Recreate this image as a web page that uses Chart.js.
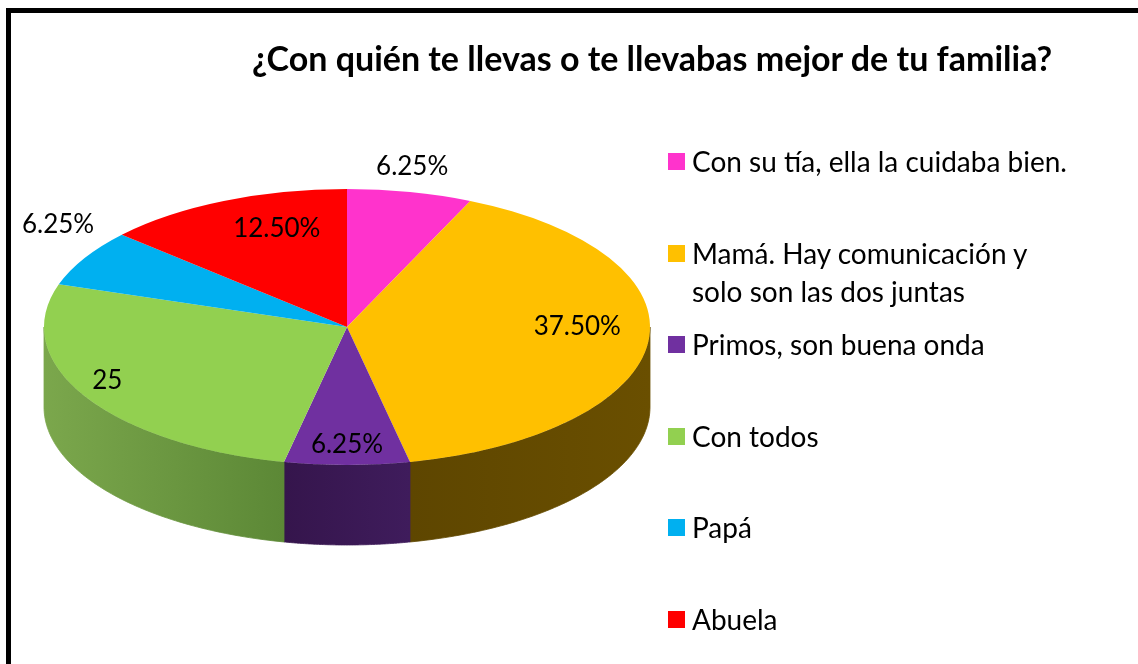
<!DOCTYPE html>
<html><head><meta charset="utf-8">
<script src="https://cdn.jsdelivr.net/npm/chart.js@4/dist/chart.umd.min.js"></script>
<style>
html,body{margin:0;padding:0;background:#fff;overflow:hidden;width:1138px;height:664px;font-family:Lato,"Open Sans",sans-serif;}
#frame{position:absolute;left:6px;top:8px;width:1300px;height:800px;border:5px solid #000;box-sizing:border-box;}
#wrap{position:absolute;left:0;top:0;width:1138px;height:664px;}
#title{position:absolute;left:252px;width:800px;top:38px;text-align:center;font-weight:700;font-size:34px;line-height:40px;color:#000;white-space:nowrap;}
.item{position:absolute;left:668px;font-size:28px;line-height:38px;color:#000;}
.item .sw{position:absolute;left:0;top:11px;width:17px;height:17px;}
.item .tx{position:absolute;left:24px;width:384px;}
</style>
</head><body>
<div id="frame"></div>
<div id="wrap"><canvas id="c" width="1138" height="664"></canvas></div>
<div id="title">¿Con quién te llevas o te llevabas mejor de tu familia?</div>
<div id="legend"></div>
<script>
const categories = ["Con su tía, ella la cuidaba bien.", "Mamá. Hay comunicación y solo son las dos juntas", "Primos, son buena onda", "Con todos", "Papá", "Abuela"];
const values = [6.25, 37.5, 6.25, 25, 6.25, 12.5];
const valueLabels = ["6.25%", "37.50%", "6.25%", "25", "6.25%", "12.50%"];
const topColors = ["#FF33CC", "#FFC000", "#7030A0", "#92D050", "#00B0F0", "#FF0000"];
const sideColors = [["#99207a", "#99207a"], ["#6a4f00", "#5e4600"], ["#3f1c5c", "#35154c"], ["#5c8836", "#7ba74c"], ["#006a90", "#006a90"], ["#990000", "#990000"]];

// geometry of the tilted pie
const TILT = 0.4554;     // vertical squash of the top face
const TOP_CY = 327;      // centre of the top face on screen
const DEPTH = 80;        // thickness of the pie
const labelPlace = [[-1.5, 1.18], [-6, 0.76], [0, 0.85], [4, 0.88], [8, 1.21], [6, 0.75]]; // [angle shift deg, radius factor]

// legend
const leg = document.getElementById('legend');
categories.forEach((c, i) => {
  const d = document.createElement('div');
  d.className = 'item';
  d.style.top = (161 + i * 91.5 - 19) + 'px';
  d.innerHTML = '<span class="sw" style="background:' + topColors[i] + '"></span><span class="tx"></span>';
  d.querySelector('.tx').textContent = c;
  leg.appendChild(d);
});

function sidePath(ctx, cx, cy, r, ry, a, b) {
  const n = 80;
  ctx.beginPath();
  for (let j = 0; j <= n; j++) {
    const t = a + (b - a) * j / n;
    const x = cx + r * Math.cos(t), y = cy + ry * Math.sin(t);
    if (j) ctx.lineTo(x, y); else ctx.moveTo(x, y);
  }
  for (let j = n; j >= 0; j--) {
    const t = a + (b - a) * j / n;
    ctx.lineTo(cx + r * Math.cos(t), cy + ry * Math.sin(t) + DEPTH);
  }
  ctx.closePath();
}

const pie3d = {
  id: 'pie3d',
  beforeDatasetsDraw(chart) {
    const meta = chart.getDatasetMeta(0);
    const ctx = chart.ctx;
    const a0 = meta.data[0];
    const cx = a0.x, cy0 = a0.y, r = a0.outerRadius, ry = r * TILT;
    const TWO = Math.PI * 2;
    meta.data.forEach((arc, i) => {
      const s = arc.startAngle, e = arc.endAngle;
      for (let k = -1; k <= 1; k++) {
        const a = Math.max(s, k * TWO), b = Math.min(e, k * TWO + Math.PI);
        if (b > a) {
          sidePath(ctx, cx, TOP_CY, r, ry, a, b);
          const xa = cx + r * Math.cos(a), xb = cx + r * Math.cos(b);
          const g = ctx.createLinearGradient(Math.min(xa, xb), 0, Math.max(xa, xb) + 0.01, 0);
          g.addColorStop(0, sideColors[i][1]);
          g.addColorStop(1, sideColors[i][0]);
          ctx.fillStyle = g;
          ctx.strokeStyle = g;
          ctx.lineWidth = 0.8;
          ctx.fill();
          ctx.stroke();
        }
      }
    });
    ctx.save();
    ctx.translate(0, TOP_CY);
    ctx.scale(1, TILT);
    ctx.translate(0, -cy0);
  },
  afterDatasetsDraw(chart) {
    const ctx = chart.ctx;
    ctx.restore();
    const meta = chart.getDatasetMeta(0);
    ctx.save();
    ctx.font = '26px Lato, "Open Sans", sans-serif';
    ctx.fillStyle = '#000';
    ctx.textAlign = 'center';
    ctx.textBaseline = 'middle';
    meta.data.forEach((arc, i) => {
      const mid = (arc.startAngle + arc.endAngle) / 2 + labelPlace[i][0] * Math.PI / 180;
      const f = labelPlace[i][1];
      const x = arc.x + arc.outerRadius * f * Math.cos(mid);
      const y = TOP_CY + arc.outerRadius * TILT * f * Math.sin(mid);
      ctx.fillText(valueLabels[i], x, y);
    });
    ctx.restore();
  }
};

new Chart(document.getElementById('c'), {
  type: 'pie',
  data: {
    labels: categories,
    datasets: [{
      data: values,
      backgroundColor: topColors,
      borderWidth: 0,
      clip: false
    }]
  },
  options: {
    responsive: false,
    animation: false,
    events: [],
    radius: 303,
    layout: { padding: { left: 44, right: 488, top: 29, bottom: 29 } },
    plugins: { legend: { display: false }, tooltip: { enabled: false }, title: { display: false } }
  },
  plugins: [pie3d]
});
</script>
</body></html>
